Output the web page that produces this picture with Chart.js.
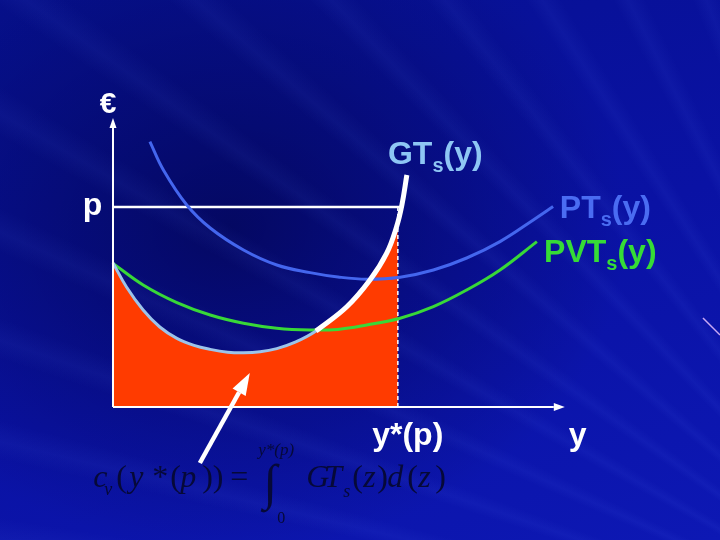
<!DOCTYPE html>
<html>
<head>
<meta charset="utf-8">
<title>Costo variabile e curva di offerta</title>
<script src="https://cdn.jsdelivr.net/npm/chart.js@4.4.0/dist/chart.umd.min.js"></script>
<style>
  html, body { margin: 0; padding: 0; }
  body {
    width: 720px;
    height: 540px;
    overflow: hidden;
    background-color: #0a12a4;
    background-image:
      repeating-conic-gradient(from 200deg at 135% 125%,
        rgba(90, 120, 255, 0) 0deg, rgba(90, 120, 255, 0.07) 1deg,
        rgba(90, 120, 255, 0) 2.2deg, rgba(0, 0, 0, 0) 5.5deg),
      radial-gradient(ellipse 55% 60% at 32% 42%, rgba(0, 0, 50, 0.55), rgba(0, 0, 50, 0) 100%),
      linear-gradient(160deg, #06108e 0%, #0a12a4 55%, #0d18b4 100%);
  }
  #wrap { position: relative; width: 720px; height: 540px; }
</style>
</head>
<body>
<div id="wrap"><canvas id="chart" width="720" height="540"></canvas></div>
<script>
// horizontal: quantity y, vertical: euro
const gtX = [0, 0.30, 0.67, 1.04, 1.42, 1.8, 2.16, 2.55, 2.90, 3.27, 3.64, 4.05, 4.51, 5.19, 5.71, 6.08, 6.30, 6.42, 6.53];
const gtY = [7.2, 6.0, 4.85, 4.0, 3.43, 3.08, 2.88, 2.74, 2.71, 2.76, 2.92, 3.24, 3.8, 5.0, 6.35, 7.68, 9.0, 10.1, 11.6];
const supplyFrom = 12; // GT above the PVT minimum (drawn in white)

const pvtX = [0, 0.67, 1.42, 2.16, 2.90, 3.64, 4.38, 5.0, 5.64, 6.38, 7.12, 7.86, 8.6, 9.42];
const pvtY = [7.18, 6.1, 5.22, 4.6, 4.19, 3.94, 3.85, 3.88, 4.1, 4.44, 5.02, 5.85, 6.85, 8.27];

const ptX = [0.82, 1.12, 1.64, 2.16, 2.90, 3.64, 4.38, 5.0, 5.64, 6.38, 7.12, 7.86, 8.6, 9.34, 9.78];
const ptY = [13.27, 11.85, 10.1, 8.95, 7.85, 7.1, 6.72, 6.5, 6.39, 6.49, 6.85, 7.45, 8.27, 9.35, 10.02];

const price = 10.0;       // p
const yStar = 6.33;       // y*(p)
const areaTop = 9.15;     // top of shaded area at y*(p)
const xAxisEnd = 10.04;
const yAxisEnd = 14.45;

const pts = (xs, ys) => xs.map((x, i) => ({ x: x, y: ys[i] }));

const areaPts = pts(gtX.slice(0, 17), gtY.slice(0, 17)).concat([{ x: yStar, y: areaTop }]);

function line(data, color, width, order, extra) {
  return Object.assign({
    data: data,
    showLine: true,
    borderColor: color,
    borderWidth: width,
    pointRadius: 0,
    tension: 0.4,
    fill: false,
    order: order
  }, extra || {});
}

function arrow(ctx, x1, y1, x2, y2, width, headLen, headW) {
  const a = Math.atan2(y2 - y1, x2 - x1);
  const bx = x2 - headLen * Math.cos(a), by = y2 - headLen * Math.sin(a);
  ctx.beginPath();
  ctx.lineWidth = width;
  ctx.moveTo(x1, y1);
  ctx.lineTo(bx, by);
  ctx.stroke();
  ctx.beginPath();
  ctx.moveTo(x2, y2);
  ctx.lineTo(bx + headW / 2 * Math.sin(a), by - headW / 2 * Math.cos(a));
  ctx.lineTo(bx - headW / 2 * Math.sin(a), by + headW / 2 * Math.cos(a));
  ctx.closePath();
  ctx.fill();
}

// label with subscript: parts are [text, size, dy]
function label(ctx, parts, x, y, color) {
  ctx.fillStyle = color;
  ctx.textBaseline = "alphabetic";
  ctx.textAlign = "left";
  let cx = x;
  parts.forEach(([t, size, dy]) => {
    ctx.font = "bold " + size + "px 'Liberation Sans', Arial, sans-serif";
    ctx.fillText(t, cx, y + dy);
    cx += ctx.measureText(t).width;
  });
}

const annotations = {
  id: "annotations",
  afterDatasetsDraw(chart) {
    const ctx = chart.ctx;
    const sx = chart.scales.x, sy = chart.scales.y;
    const X = (v) => sx.getPixelForValue(v), Y = (v) => sy.getPixelForValue(v);
    ctx.save();

    // axes
    ctx.strokeStyle = "#ffffff";
    ctx.fillStyle = "#ffffff";
    arrow(ctx, X(0), Y(0), X(0), Y(yAxisEnd), 2, 10, 7);
    arrow(ctx, X(0), Y(0), X(xAxisEnd), Y(0), 2, 11, 8);

    // pointer to the shaded area
    ctx.lineCap = "butt";
    arrow(ctx, X(1.93), Y(-2.8), X(3.04), Y(1.7), 4.5, 22, 15);

    // stray decoration at the right edge
    ctx.strokeStyle = "#c8a8f4";
    ctx.lineWidth = 1.5;
    ctx.beginPath();
    ctx.moveTo(X(13.11), Y(4.45));
    ctx.lineTo(X(13.49), Y(3.6));
    ctx.stroke();

    // text labels
    ctx.fillStyle = "#ffffff";
    ctx.font = "bold 30px 'Liberation Sans', Arial, sans-serif";
    ctx.textAlign = "center";
    ctx.fillText("€", X(-0.11), Y(14.7));
    ctx.textAlign = "right";
    ctx.font = "bold 32px 'Liberation Sans', Arial, sans-serif";
    ctx.fillText("p", X(-0.24), Y(9.6));

    label(ctx, [["GT", 32, 0], ["s", 20, 8], ["(y)", 32, 0]], X(6.11), Y(12.15), "#8ec6f4");
    label(ctx, [["PT", 32, 0], ["s", 20, 8], ["(y)", 32, 0]], X(9.93), Y(9.45), "#4a6cf2");
    label(ctx, [["PVT", 32, 0], ["s", 20, 8], ["(y)", 32, 0]], X(9.58), Y(7.25), "#36dc36");
    label(ctx, [["y*(p)", 32, 0]], X(5.76), Y(-1.9), "#ffffff");
    label(ctx, [["y", 32, 0]], X(10.13), Y(-1.9), "#ffffff");

    // formula c_v(y*(p)) = integral, anchored at the left of "c"
    const fx = X(-0.44), fy = Y(-4.0);
    const serif = "'Liberation Serif', 'Times New Roman', serif";
    const pieces = [
      ["c", 0, 0, 32, true], ["v", 11, 8, 18, true], ["(", 23, 0, 32, false],
      ["y", 36, 0, 32, true], ["*", 59, 0, 32, false], ["(", 77, 0, 32, false],
      ["p", 87, 0, 32, true], ["))", 109, 0, 32, false], ["=", 137, 0, 32, false],
      ["\u222B", 170, 12, 50, false], ["y*(p)", 165, -32, 17, true], ["0", 184, 36, 16, false],
      ["G", 213, 0, 32, true], ["T", 231, 0, 32, true], ["s", 250, 10, 18, true],
      ["(", 259, 0, 32, false], ["z", 270, 0, 32, true], [")", 284, 0, 32, false],
      ["d", 294, 0, 32, true], ["(", 314, 0, 32, false], ["z", 325, 0, 32, true],
      [")", 342, 0, 32, false]
    ];
    ctx.fillStyle = "#060938";
    ctx.textAlign = "left";
    pieces.forEach(([t, dx, dy, size, it]) => {
      ctx.font = (it ? "italic " : "") + size + "px " + serif;
      ctx.fillText(t, fx + dx, fy + dy);
    });

    ctx.restore();
  }
};

new Chart(document.getElementById("chart"), {
  type: "scatter",
  data: {
    datasets: [
      line(areaPts, "rgba(0,0,0,0)", 0, 10, { fill: { value: 0 }, backgroundColor: "#ff3b00" }),
      line([{ x: 0, y: price }, { x: gtX[17], y: price }], "#ffffff", 2.5, 9, { tension: 0 }),
      line([{ x: yStar, y: price }, { x: yStar, y: 0 }], "#ffffff", 1.5, 8, { borderDash: [4, 3], tension: 0 }),
      line(pts(ptX, ptY), "#4466ee", 3, 7),
      line(pts(pvtX, pvtY), "#38d838", 3, 6),
      line(pts(gtX, gtY), "#9cc4ea", 3, 5),
      line(pts(gtX.slice(supplyFrom), gtY.slice(supplyFrom)), "#ffffff", 5, 4)
    ]
  },
  options: {
    responsive: false,
    animation: false,
    layout: { padding: 0 },
    plugins: { legend: { display: false }, tooltip: { enabled: false } },
    scales: {
      x: { type: "linear", display: false, min: -2.511, max: 13.489 },
      y: { type: "linear", display: false, min: -6.65, max: 20.35 }
    }
  },
  plugins: [annotations]
});
</script>
</body>
</html>
